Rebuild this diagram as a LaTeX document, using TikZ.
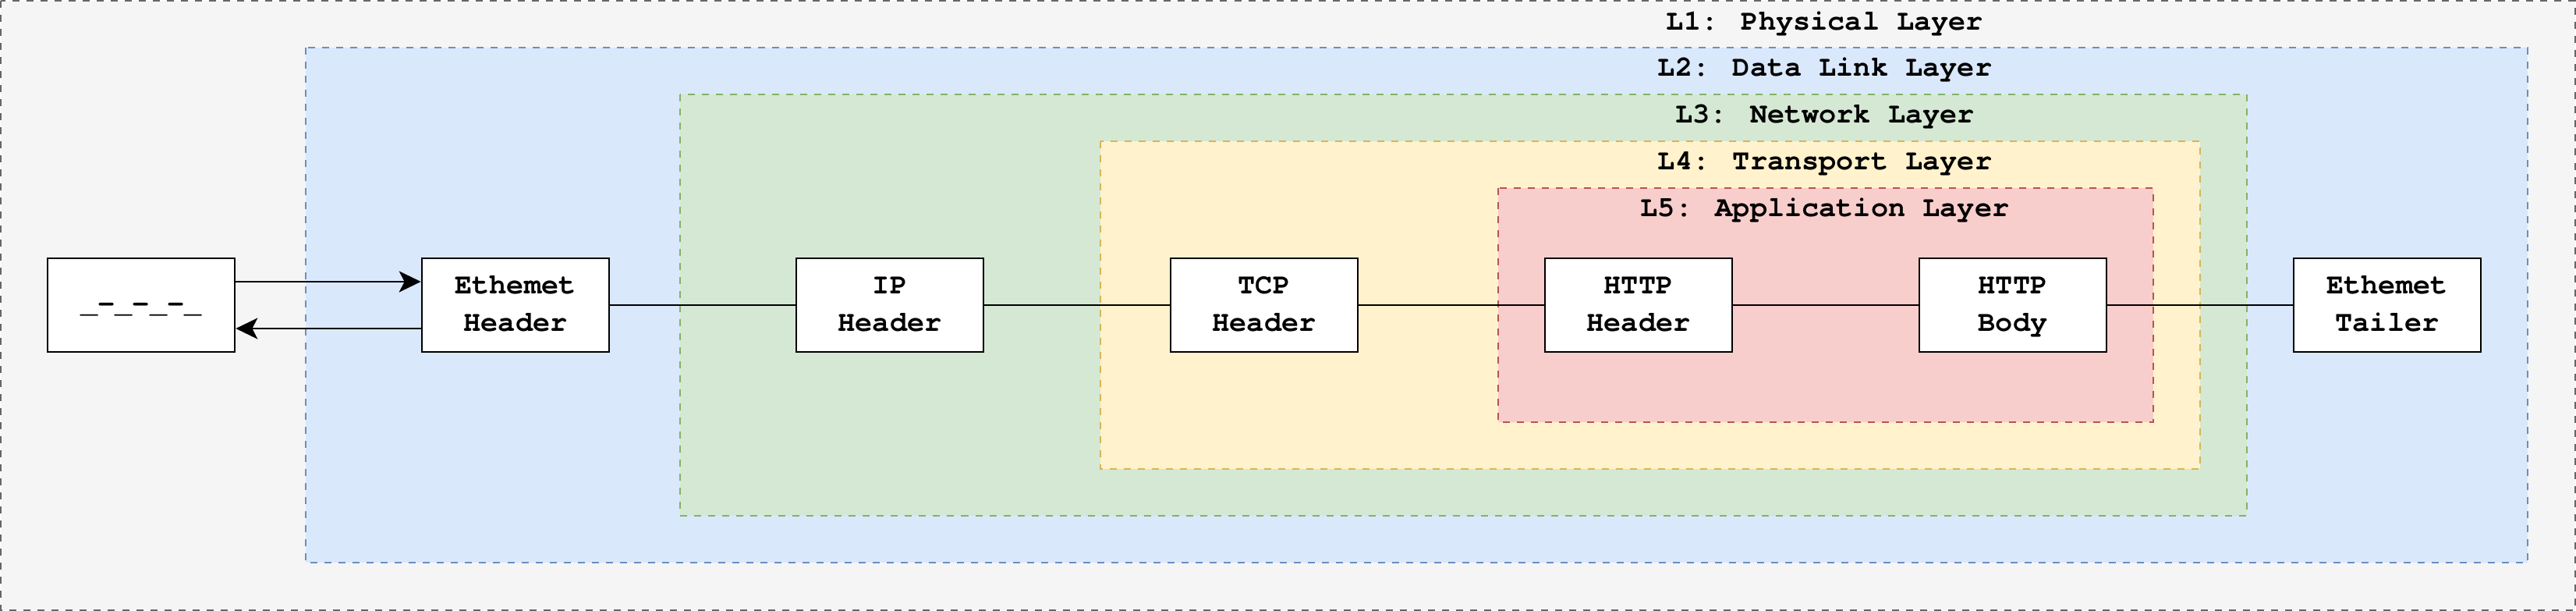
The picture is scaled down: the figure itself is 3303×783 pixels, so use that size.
\documentclass[tikz,border=0pt]{standalone}
\usepackage{fontspec}
\setmainfont{TeX Gyre Cursor}
\usetikzlibrary{arrows.meta}

\definecolor{physFill}{HTML}{F5F5F5}
\definecolor{physLine}{HTML}{666666}
\definecolor{linkFill}{HTML}{DAE8FC}
\definecolor{linkLine}{HTML}{6C8EBF}
\definecolor{netFill}{HTML}{D5E8D4}
\definecolor{netLine}{HTML}{82B366}
\definecolor{transFill}{HTML}{FFF2CC}
\definecolor{transLine}{HTML}{D6B656}
\definecolor{appFill}{HTML}{F8CECC}
\definecolor{appLine}{HTML}{B85450}

\begin{document}
\begin{tikzpicture}[x=0.01cm, y=-0.01cm,
  font=\bfseries\fontsize{10.5}{13.7}\selectfont,
  layer/.style={line width=0.025cm, dash pattern=on 0.09cm off 0.09cm},
  pkt/.style={draw, fill=white, line width=0.025cm, minimum width=2.4cm,
    minimum height=1.2cm, inner sep=0pt, align=center},
  wire/.style={line width=0.022cm},
  flow/.style={wire, -{Stealth[length=0.28cm, width=0.27cm, inset=0.07cm]}}]
  \useasboundingbox (0,0) rectangle (3303,783);

  % nested layers
  \draw[layer, draw=physLine, fill=physFill] (1,1) rectangle (3302,782);
  \draw[layer, draw=linkLine, fill=linkFill] (392,61) rectangle (3241,721);
  \draw[layer, draw=netLine, fill=netFill] (872,121) rectangle (2881,661);
  \draw[layer, draw=transLine, fill=transFill] (1411,181) rectangle (2821,601);
  \draw[layer, draw=appLine, fill=appFill] (1921,241) rectangle (2761,541);

  \node[anchor=base] (physLbl) at (2340,39) {L1: Physical Layer};
  \node[anchor=base] (linkLbl) at (2340,98) {L2: Data Link Layer};
  \node[anchor=base] (netLbl) at (2340,158) {L3: Network Layer};
  \node[anchor=base] (transLbl) at (2340,218) {L4: Transport Layer};
  \node[anchor=base] (appLbl) at (2340,278) {L5: Application Layer};

  % packet parts
  \node[pkt] (sig) at (181,391) {\strut\_-\_-\_-\_};
  \node[pkt] (ethHead) at (661,391) {\strut Ethemet\\\strut Header};
  \node[pkt] (ipHead) at (1141,391) {\strut IP\\\strut Header};
  \node[pkt] (tcpHead) at (1621,391) {\strut TCP\\\strut Header};
  \node[pkt] (httpHead) at (2101,391) {\strut HTTP\\\strut Header};
  \node[pkt] (httpBody) at (2581,391) {\strut HTTP\\\strut Body};
  \node[pkt] (ethTail) at (3061,391) {\strut Ethemet\\\strut Tailer};

  \draw[flow] ([yshift=0.3cm]sig.east) -- ([yshift=0.3cm]ethHead.west);
  \draw[flow] ([yshift=-0.3cm]ethHead.west) -- ([yshift=-0.3cm]sig.east);

  \draw[wire] (ethHead) -- (ipHead);
  \draw[wire] (ipHead) -- (tcpHead);
  \draw[wire] (tcpHead) -- (httpHead);
  \draw[wire] (httpHead) -- (httpBody);
  \draw[wire] (httpBody) -- (ethTail);
\end{tikzpicture}
\end{document}
